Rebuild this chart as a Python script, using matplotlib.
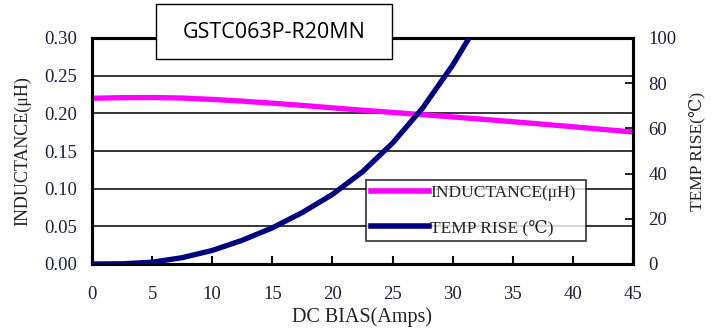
import matplotlib
matplotlib.use("Agg")
import matplotlib.pyplot as plt
from matplotlib.patches import Rectangle
from matplotlib.lines import Line2D

# Data
current_ind = [0, 2.5, 5, 7.5, 10, 12.5, 15, 17.5, 20, 22.5, 25, 27.5, 30, 32.5, 35, 37.5, 40, 42.5, 45]
inductance = [0.220, 0.2208, 0.221, 0.2203, 0.2185, 0.2162, 0.2135, 0.2105, 0.2073, 0.2042, 0.2012,
              0.1982, 0.1952, 0.1921, 0.1889, 0.1856, 0.1822, 0.1787, 0.1752]
current_temp = [0, 2.5, 5, 7.5, 10, 12.5, 15, 17.5, 20, 22.5, 25, 27.5, 30, 32.5]
temp_rise = [0, 0.1, 0.8, 2.8, 6.0, 10.5, 16.0, 22.8, 30.8, 40.8, 53.5, 69.0, 88.0, 110.0]

x_ticks = [0, 5, 10, 15, 20, 25, 30, 35, 40, 45]
y_ticks = [0.00, 0.05, 0.10, 0.15, 0.20, 0.25, 0.30]
y2_ticks = [0, 20, 40, 60, 80, 100]

serif = ['Liberation Serif', 'DejaVu Serif']
tick_color = '#1f1f3a'
label_color = '#222222'

fig = plt.figure(figsize=(7.2, 3.31), dpi=100)
ax = fig.add_axes([92/720, 1-264/331, (633-92)/720, (264-38)/331])
ax2 = ax.twinx()

ax.set_xlim(0, 45)
ax.set_ylim(0, 0.30)
ax2.set_ylim(0, 100)

for y in y_ticks[1:-1]:
    ax.axhline(y, color='black', lw=1.1, zorder=1)

ax2.plot(current_temp, temp_rise, color='#000080', lw=3.8, zorder=3,
         solid_capstyle='round', solid_joinstyle='round')
ax.plot(current_ind, inductance, color='#ff00ff', lw=3.8, zorder=2, solid_joinstyle='round')
ax.set_zorder(ax2.get_zorder() - 1)
ax.patch.set_visible(True)
ax2.patch.set_visible(False)

ax.set_xticks(x_ticks)
ax.set_xticklabels([str(v) for v in x_ticks], fontfamily=serif, fontsize=13.5, color=tick_color)
ax.set_yticks(y_ticks)
ax.set_yticklabels([f"{v:.2f}" for v in y_ticks], fontfamily=serif, fontsize=13.5, color=tick_color)
ax2.set_yticks(y2_ticks)
ax2.set_yticklabels([str(v) for v in y2_ticks], fontfamily=serif, fontsize=13.5, color=tick_color)

ax.tick_params(axis='x', direction='in', length=6, width=1.5, pad=16)
ax.tick_params(axis='y', direction='in', length=0, pad=11)
ax2.tick_params(axis='y', direction='in', length=6, width=1.2, pad=11)

for a in (ax, ax2):
    for s in a.spines.values():
        s.set_linewidth(2.2)
        s.set_color('black')

ax.set_xlabel('DC BIAS(Amps)', fontfamily=serif, fontsize=14.5, labelpad=3, color=label_color)
ax.set_ylabel('INDUCTANCE(μH)', fontfamily=serif, fontsize=13, labelpad=9, color=label_color)
ax2.set_ylabel('TEMP RISE(℃)', fontfamily=serif, fontsize=12.5, labelpad=9, color=label_color)

handles = [Line2D([], [], color='#ff00ff', lw=4),
           Line2D([], [], color='#000080', lw=4)]
leg = ax.legend(handles, ['INDUCTANCE(μH)', 'TEMP RISE (℃)'],
                loc='upper left',
                bbox_to_anchor=((366-92)/541, (264-182)/226, (586-366)/541, 0.01),
                mode='expand', prop={'family': serif, 'size': 12.5}, frameon=True, fancybox=False,
                edgecolor='black', handlelength=3.3, handletextpad=0.1, borderpad=0.3,
                labelspacing=1.05, borderaxespad=0)
leg.get_frame().set_linewidth(1.2)
leg.set_zorder(10)
for t in leg.get_texts():
    t.set_color(label_color)

# Title box
fig.patches.append(Rectangle((156/720, 1-59/331), (392-156)/720, (59-4)/331,
                             transform=fig.transFigure, facecolor='white',
                             edgecolor='black', lw=1.0, zorder=20))
fig.text((156+392)/2/720, 1-32/331, 'GSTC063P-R20MN', ha='center', va='center',
         fontfamily=['Open Sans', 'DejaVu Sans'], fontsize=15.5, zorder=21)

fig.savefig('out.png', dpi=100)
